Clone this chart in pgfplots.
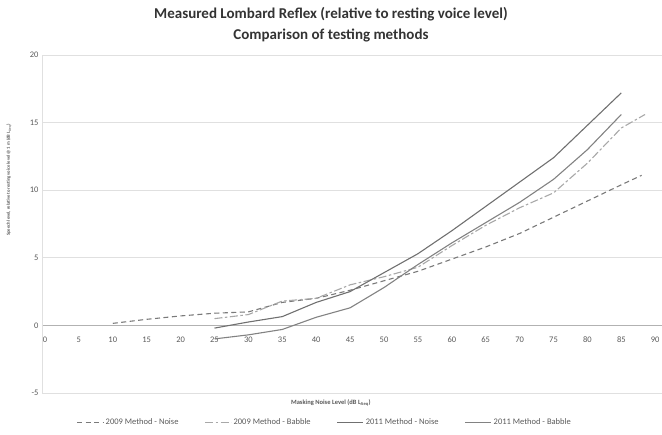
\documentclass[border=0pt]{standalone}
\usepackage{pgfplots}
\pgfplotsset{compat=1.18}
\usepackage{fontspec}
\setmainfont{Carlito}
\definecolor{txt}{HTML}{595959}
\definecolor{gridc}{HTML}{E0E0E0}
\definecolor{lnA}{HTML}{7A7A7A}
\definecolor{lnB}{HTML}{A8A8A8}
\definecolor{lnC}{HTML}{707070}
\definecolor{lnD}{HTML}{828282}
\begin{document}
\begin{tikzpicture}[x=1pt,y=1pt]
\path[use as bounding box] (0,0) rectangle (662,435);
\begin{axis}[
  at={(42pt,42pt)}, anchor=south west,
  scale only axis, width=620pt, height=338pt,
  xmin=-0.44, xmax=91, ymin=-5, ymax=20,
  axis x line=middle, axis y line=left,
  hide obscured x ticks=false, hide obscured y ticks=false,
  axis line style={-},
  x axis line style={draw=gray!60, line width=0.8pt},
  y axis line style={draw=gridc, line width=0.8pt},
  xtick={0,5,...,90}, ytick={-5,0,...,20},
  major tick length=0pt,
  ymajorgrids, grid style={draw=gridc, line width=0.8pt},
  /pgf/number format/assume math mode=true,
  ticklabel style={font=\fontsize{8.5}{10}\selectfont, text=txt},
  xticklabel style={yshift=-8pt},
  legend style={at={(0.456,-0.086)}, anchor=center, legend columns=4, draw=none, fill=none,
    font=\fontsize{8.5}{10}\selectfont, text=txt,
    /tikz/every even column/.append style={column sep=24pt}},
  legend image code/.code={\draw[#1] (0pt,0pt) -- (26pt,0pt);},
  clip=false,
]
\addplot[lnA, line width=1.1pt, dash pattern=on 5pt off 3.5pt] coordinates {
(10,0.15) (15,0.45) (20,0.7) (25,0.9) (30,1.0) (35,1.7) (40,2.0) (45,2.6) (50,3.3) (55,4.0) (60,4.9) (65,5.8) (70,6.8) (75,8.0) (80,9.2) (85,10.4) (88,11.1)};
\addlegendentry{2009 Method - Noise}
\addplot[lnB, line width=1.1pt, dash pattern=on 8pt off 2.5pt on 2.5pt off 2.5pt] coordinates {
(25,0.5) (30,0.8) (35,1.8) (40,2.0) (45,3.0) (50,3.6) (55,4.3) (60,5.9) (65,7.4) (70,8.7) (75,9.8) (80,12.0) (85,14.6) (88.5,15.6)};
\addlegendentry{2009 Method - Babble}
\addplot[lnC, line width=1.1pt] coordinates {
(25,-0.2) (30,0.25) (35,0.65) (40,1.7) (45,2.5) (50,3.9) (55,5.3) (60,7.0) (65,8.8) (70,10.6) (75,12.4) (80,14.8) (85,17.2)};
\addlegendentry{2011 Method - Noise}
\addplot[lnD, line width=1.1pt] coordinates {
(25,-1.0) (30,-0.7) (35,-0.3) (40,0.6) (45,1.3) (50,2.8) (55,4.5) (60,6.1) (65,7.6) (70,9.1) (75,10.8) (80,13.0) (85,15.6)};
\addlegendentry{2011 Method - Babble}
\node[anchor=north, font=\bfseries\fontsize{6.5}{8}\selectfont, text=txt] at (rel axis cs:0.466,0) [yshift=-3pt] {Masking Noise Level (dB L\textsubscript{Aeq})};
\end{axis}
\node[align=center, font=\bfseries\fontsize{15}{21}\selectfont, text=black!80] at (331,410) {Measured Lombard Reflex (relative to resting voice level)\\Comparison of testing methods};
\node[rotate=90, font=\bfseries\fontsize{4.6}{6}\selectfont, text=txt] at (9,255) {Speech level, relative to resting voice level @ 1 m (dB L\textsubscript{Aeq})};
\end{tikzpicture}
\end{document}
